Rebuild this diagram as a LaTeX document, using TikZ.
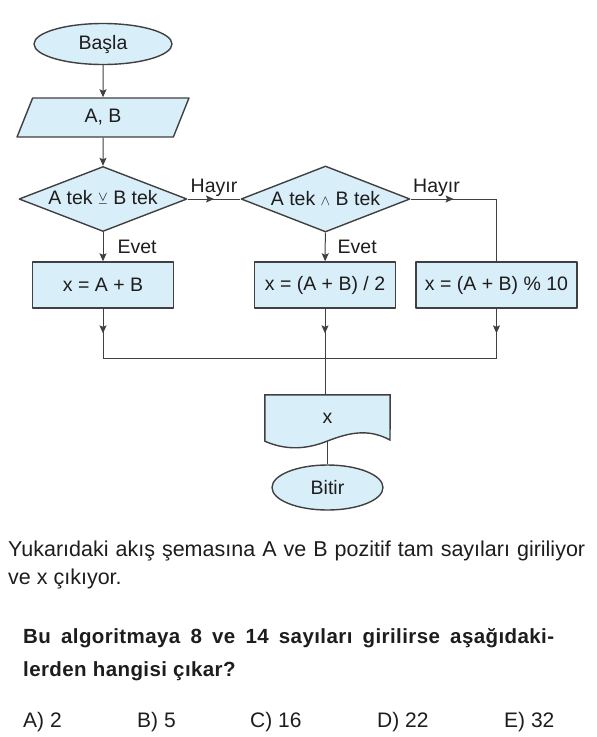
\documentclass[tikz,border=0pt]{standalone}
\usepackage{amssymb}
\usepackage{fontspec}
\setmainfont{Liberation Sans}
\usetikzlibrary{shapes.geometric,arrows.meta,decorations.markings,backgrounds}

\newcommand{\chartfont}{\fontsize{19.5}{22}\selectfont}
\newcommand{\bodyfont}{\fontsize{21.5}{25}\selectfont}
\newcommand{\askfont}{\fontsize{20.5}{24}\selectfont\bfseries\addfontfeatures{LetterSpace=2}}
\newcommand{\optfont}{\fontsize{21}{24}\selectfont}
\newcommand{\xorop}{{\fontsize{16}{16}\selectfont$\veebar$}}
\newcommand{\andop}{{\fontsize{15}{15}\selectfont$\wedge$}}

\begin{document}
\begin{tikzpicture}[x=1pt, y=-1pt, line join=round,
  box/.style={draw=edge, fill=pale, line width=1.4pt, text=ink, font=\chartfont, inner sep=0pt},
  line/.style={draw=edge, line width=1pt},
  flow/.style={line, -{Stealth[length=8pt,width=7pt,inset=1.5pt]}},
  midarrow/.style={postaction={decorate}, decoration={markings,
      mark=at position 0.5 with {\arrow{Stealth[length=8pt,width=7pt,inset=1.5pt]}}}},
  lbl/.style={text=ink, font=\chartfont, inner sep=2pt}]
  \definecolor{pale}{RGB}{216,238,249}
  \definecolor{edge}{RGB}{64,64,64}
  \definecolor{ink}{RGB}{30,28,29}
  \useasboundingbox (0,0) rectangle (597,737);

  % flowchart
  \node[box, ellipse, minimum width=138pt, minimum height=41pt] (start) at (103,44) {Başla};
  \node[box, trapezium, trapezium left angle=75.6, trapezium right angle=104.4,
    trapezium stretches=true, minimum width=172pt, minimum height=39pt] (input) at (103,117.5) {A, B};
  \node[box, diamond, aspect=2.6, minimum width=168pt, minimum height=65pt] (cond1) at (103,199) {A tek \xorop\ B tek};
  \node[box, diamond, aspect=2.6, minimum width=169pt, minimum height=66pt] (cond2) at (325.5,199) {A tek \andop\ B tek};
  \node[box, minimum width=141pt, minimum height=46pt] (sum) at (103,285) {x = A + B};
  \node[box, minimum width=141pt, minimum height=46pt] (avg) at (325,285) {x = (A + B) / 2};
  \node[box, minimum width=161pt, minimum height=46pt] (mod) at (496.5,285) {x = (A + B) \% 10};
  \node[text=ink, font=\chartfont, minimum width=125pt, minimum height=46pt] (out) at (327.5,418) {x};
  \begin{scope}[on background layer]
    \draw[box] (out.north west) -- (out.north east) -- (390,440)
      .. controls (368,428) and (348,433) .. (327.5,441)
      .. controls (305,450) and (285,450) .. (out.south west) -- cycle;
  \end{scope}
  \node[box, ellipse, minimum width=111pt, minimum height=45pt] (stop) at (327.5,487.5) {Bitir};
  \coordinate (join) at (325,358);

  \draw[flow] (start) -- (input);
  \draw[flow] (input) -- (cond1);
  \draw[line, midarrow] (cond1) -- node[lbl, above] {Hayır} (cond2);
  \draw[flow] (cond1) -- node[lbl, right=12pt] {Evet} (sum);
  \draw[flow] (cond2) -- node[lbl, right=10pt] {Evet} (avg);
  \draw[line, midarrow] (cond2.east) -- node[lbl, pos=0, above right] {Hayır} (cond2.east -| mod.north);
  \draw[line] (cond2.east -| mod.north) -- (mod.north);
  \draw[line, midarrow] (sum.south) -- (sum.south |- join);
  \draw[line, midarrow] (avg.south) -- (join);
  \draw[line, midarrow] (mod.south) -- (mod.south |- join);
  \draw[line] (sum.south |- join) -- (mod.south |- join);
  \draw[line] (join) -- (out.north -| join);
  \draw[line] (out.south) -- (stop.north);

  % question text
  \node[anchor=base west, inner sep=0pt, text=ink, font=\bodyfont] (q1) at (8,556)
    {\makebox[577pt][s]{Yukarıdaki akış şemasına A ve B pozitif tam sayıları giriliyor}};
  \node[anchor=base west, inner sep=0pt, text=ink, font=\bodyfont] (q2) at (8,584) {ve x çıkıyor.};
  \node[anchor=base west, inner sep=0pt, text=ink, font=\askfont] (ask1) at (23,643)
    {\makebox[531pt][s]{Bu algoritmaya 8 ve 14 sayıları girilirse aşağıdaki-}};
  \node[anchor=base west, inner sep=0pt, text=ink, font=\askfont] (ask2) at (23,676) {lerden hangisi çıkar?};
  \node[anchor=base west, inner sep=0pt, text=ink, font=\optfont] (optA) at (23,727) {A) 2};
  \node[anchor=base west, inner sep=0pt, text=ink, font=\optfont] (optB) at (137,727) {B) 5};
  \node[anchor=base west, inner sep=0pt, text=ink, font=\optfont] (optC) at (250,727) {C) 16};
  \node[anchor=base west, inner sep=0pt, text=ink, font=\optfont] (optD) at (377,727) {D) 22};
  \node[anchor=base west, inner sep=0pt, text=ink, font=\optfont] (optE) at (504,727) {E) 32};
\end{tikzpicture}
\end{document}
